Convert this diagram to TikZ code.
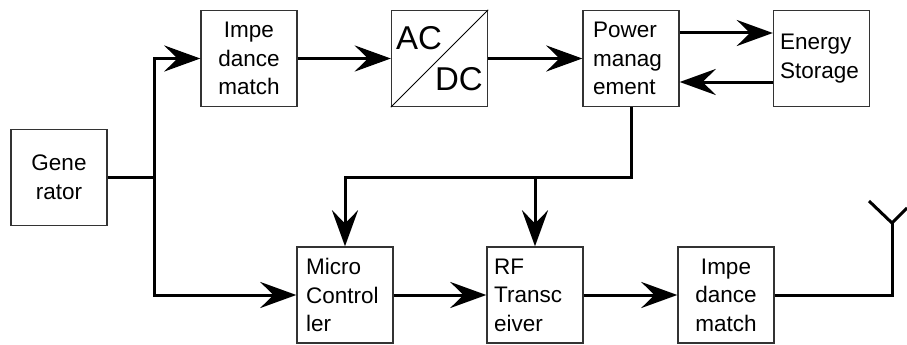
\documentclass[tikz,border=0pt]{standalone}
\usepackage{fontspec}
\setmainfont{Liberation Sans}
\usetikzlibrary{arrows.meta}
\begin{document}
\begin{tikzpicture}[x=1pt,y=-1pt,
  blk/.style={draw=black!80, line width=1.4pt, minimum width=96pt, minimum height=96pt, inner sep=0pt,
    font=\fontsize{22.5}{28.5}\selectfont, align=center},
  lbll/.style={font=\fontsize{22.5}{28.5}\selectfont, align=left, inner sep=0pt, anchor=west},
  wire/.style={line width=3pt},
  arr/.style={wire, -{Stealth[length=36pt,width=26pt,inset=13pt]}}
]
\useasboundingbox (0,0) rectangle (907,345);
% blocks
\node[blk] (gen) at (59,177.5) {Gene\\rator};
\node[blk] (imp1) at (249,58.5) {Impe\\dance\\match};
\node[blk] (acdc) at (439.5,58.5) {};
\node[blk] (pm) at (631,58.5) {};
\node[blk] (es) at (821.5,58.5) {};
\node[blk] (mc) at (345,295) {};
\node[blk] (rf) at (535,295) {};
\node[blk] (imp2) at (726,295) {Impe\\dance\\match};
% texts
\draw[line width=0.9pt] (acdc.south west) -- (acdc.north east);
\node[font=\fontsize{33}{33}\selectfont, anchor=base west, inner sep=0pt] (ac) at (396,50) {AC};
\node[font=\fontsize{33}{33}\selectfont, anchor=base east, inner sep=0pt] (dc) at (483,90) {DC};
\node[lbll] (pmt) at (593,58.5) {Power\\manag\\ement};
\node[lbll] (est) at (780,58.5) {Energy\\Storage};
\node[lbll] (mct) at (306,295) {Micro\\Control\\ler};
\node[lbll] (rft) at (494,295) {RF\\Transc\\eiver};
% helper coordinates
\coordinate (j1) at (154,177.5);
\coordinate (up) at (0,33);
\coordinate (dn) at (0,82);
\coordinate (h) at (0,177);
\coordinate (ant) at (892,223);
\coordinate (antl) at (869,201);
\coordinate (antr) at (907,208);
% connectors
\draw[wire] (gen.east) -- (j1);
\draw[arr] (j1) |- (imp1.west);
\draw[arr] (j1) |- (mc.west);
\draw[arr] (imp1) -- (acdc);
\draw[arr] (acdc) -- (pm);
\draw[arr] (pm.east |- up) -- (es.west |- up);
\draw[arr] (es.west |- dn) -- (pm.east |- dn);
\draw[arr] (pm.south) -- (pm.south |- h) -| (mc.north);
\draw[arr] (rf.north |- h) -- (rf.north);
\draw[arr] (mc) -- (rf);
\draw[arr] (rf) -- (imp2);
\draw[wire, line join=miter] (imp2.east) -| (ant);
\draw[wire] (antl) -- (ant) -- (antr);
\end{tikzpicture}
\end{document}
